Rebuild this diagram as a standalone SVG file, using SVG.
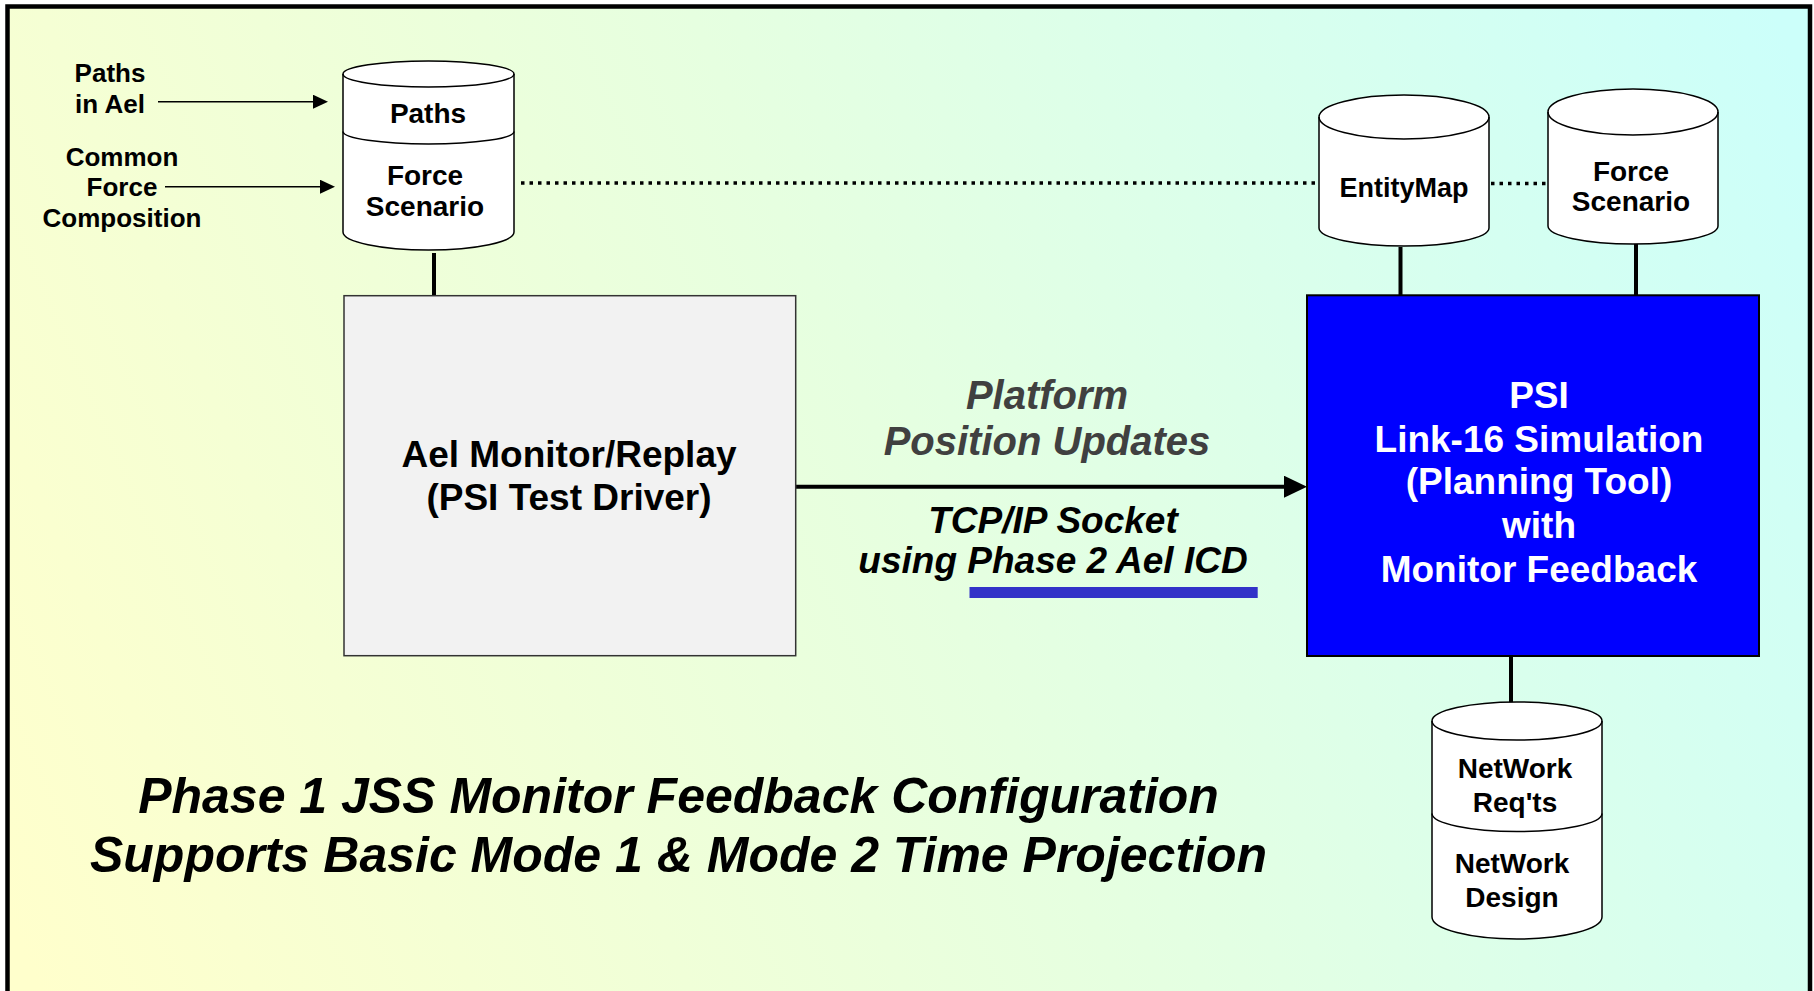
<svg xmlns="http://www.w3.org/2000/svg" width="1814" height="991" viewBox="0 0 1814 991">
<defs>
<linearGradient id="bg" gradientUnits="userSpaceOnUse" x1="0" y1="900" x2="1814" y2="100">
<stop offset="0" stop-color="#FFFFCC"/>
<stop offset="0.5" stop-color="#E6FFE0"/>
<stop offset="1" stop-color="#CCFFFA"/>
</linearGradient>
<marker id="ahS" markerUnits="userSpaceOnUse" markerWidth="16" markerHeight="14" refX="5" refY="7" orient="auto">
<path d="M0,0 L15,7 L0,14 Z" fill="#000"/>
</marker>
<marker id="ahL" markerUnits="userSpaceOnUse" markerWidth="24" markerHeight="22" refX="3" refY="11" orient="auto">
<path d="M0,0 L23,11 L0,22 Z" fill="#000"/>
</marker>
</defs>
<style>
.t{font-family:"Liberation Sans",Arial,sans-serif;font-weight:bold;text-anchor:middle;fill:#000}
.it{font-style:italic}
.cyl{fill:#FFFFFF;stroke:#000;stroke-width:1.5}
.cl{fill:none;stroke:#000;stroke-width:1.5}
.conn{stroke:#000;stroke-width:4;fill:none}
.thin{stroke:#000;stroke-width:1.5;fill:none}
.dot{stroke:#000;stroke-width:3.5;stroke-dasharray:3.5 5;fill:none}
</style>
<rect x="0" y="0" width="1814" height="991" fill="#FFFFFF"/>
<rect id="frame" x="7.5" y="6.5" width="1802.5" height="1000" fill="url(#bg)" stroke="#000" stroke-width="4.5"/>

<g id="connectors">
<line class="thin" x1="158" y1="101.7" x2="318" y2="101.7" marker-end="url(#ahS)"/>
<line class="thin" x1="165" y1="186.7" x2="325" y2="186.7" marker-end="url(#ahS)"/>
<line class="dot" x1="521" y1="183" x2="1316" y2="183"/>
<line class="dot" x1="1491" y1="183.5" x2="1547" y2="183.5"/>
<line class="conn" x1="434" y1="253" x2="434" y2="296"/>
<line class="conn" x1="1400.5" y1="247" x2="1400.5" y2="295"/>
<line class="conn" x1="1636" y1="244" x2="1636" y2="295"/>
<line class="conn" x1="1511" y1="656" x2="1511" y2="720"/>
<line class="conn" x1="796" y1="486.7" x2="1287" y2="486.7" marker-end="url(#ahL)"/>
</g>

<g id="label-paths-in-ael">
<text class="t" font-size="26" x="110" y="81.7">Paths</text>
<text class="t" font-size="26" x="110" y="112.7">in Ael</text>
</g>
<g id="label-common-force">
<text class="t" font-size="26" x="122" y="165.7">Common</text>
<text class="t" font-size="26" x="122" y="195.7">Force</text>
<text class="t" font-size="26" x="122" y="226.7">Composition</text>
</g>

<g id="db-paths-force">
<path class="cyl" d="M343,74 L343,232 A85.5,18 0 0 0 514,232 L514,74 A85.5,13 0 0 0 343,74 Z"/>
<path class="cl" d="M343,74 A85.5,13 0 0 0 514,74"/>
<path class="cl" stroke-width="2.2" d="M343,131.5 A85.5,12.5 0 0 0 514,131.5"/>
<text class="t" font-size="28" x="428" y="123">Paths</text>
<text class="t" font-size="28" x="425" y="185">Force</text>
<text class="t" font-size="28" x="425" y="216">Scenario</text>
</g>

<g id="db-entitymap">
<path class="cyl" d="M1319,117 L1319,228 A85,18 0 0 0 1489,228 L1489,117 A85,22 0 0 0 1319,117 Z"/>
<path class="cl" d="M1319,117 A85,22 0 0 0 1489,117"/>
<text class="t" font-size="27" x="1404" y="196.7">EntityMap</text>
</g>

<g id="db-force-scenario-right">
<path class="cyl" d="M1548,112 L1548,226 A85,18 0 0 0 1718,226 L1718,112 A85,23 0 0 0 1548,112 Z"/>
<path class="cl" d="M1548,112 A85,23 0 0 0 1718,112"/>
<text class="t" font-size="28" x="1631" y="180.7">Force</text>
<text class="t" font-size="28" x="1631" y="210.5">Scenario</text>
</g>

<g id="db-network">
<path class="cyl" d="M1432,721 L1432,917 A85,22 0 0 0 1602,917 L1602,721 A85,19 0 0 0 1432,721 Z"/>
<path class="cl" d="M1432,721 A85,19 0 0 0 1602,721"/>
<path class="cl" stroke-width="2.2" d="M1432,813.5 A85,18 0 0 0 1602,813.5"/>
<text class="t" font-size="28" x="1515" y="778.3">NetWork</text>
<text class="t" font-size="28" x="1515" y="811.7">Req'ts</text>
<text class="t" font-size="28" x="1512" y="873.3">NetWork</text>
<text class="t" font-size="28" x="1512" y="906.7">Design</text>
</g>

<g id="box-ael-monitor">
<rect x="344" y="295.7" width="451.7" height="360" fill="#F2F2F2" stroke="#333" stroke-width="1.5"/>
<text class="t" font-size="37" x="569" y="466.7">Ael Monitor/Replay</text>
<text class="t" font-size="37" x="569" y="510">(PSI Test Driver)</text>
</g>

<g id="box-psi">
<rect x="1307" y="295.3" width="452" height="360.7" fill="#0000FF" stroke="#000" stroke-width="2"/>
<text class="t" font-size="37" style="fill:#FFFFFF" x="1539" y="407.7">PSI</text>
<text class="t" font-size="37" style="fill:#FFFFFF" x="1539" y="451.5">Link-16 Simulation</text>
<text class="t" font-size="37" style="fill:#FFFFFF" x="1539" y="494">(Planning Tool)</text>
<text class="t" font-size="37" style="fill:#FFFFFF" x="1539" y="537.5">with</text>
<text class="t" font-size="37" style="fill:#FFFFFF" x="1539" y="581.5">Monitor Feedback</text>
</g>

<g id="label-platform">
<text class="t it" font-size="40" style="fill:#404040" x="1047" y="409.3">Platform</text>
<text class="t it" font-size="40" style="fill:#404040" x="1047" y="455">Position Updates</text>
</g>
<g id="label-tcp">
<text class="t it" font-size="37" x="1053" y="533.3">TCP/IP Socket</text>
<text class="t it" font-size="37" x="1053" y="573.3">using Phase 2 Ael ICD</text>
<rect x="969.5" y="587" width="288.2" height="11" fill="#3232C8"/>
</g>

<g id="title">
<text class="t it" font-size="50" x="678.5" y="813.3">Phase 1 JSS Monitor Feedback Configuration</text>
<text class="t it" font-size="50" x="678.5" y="872">Supports Basic Mode 1 &amp; Mode 2 Time Projection</text>
</g>
</svg>
